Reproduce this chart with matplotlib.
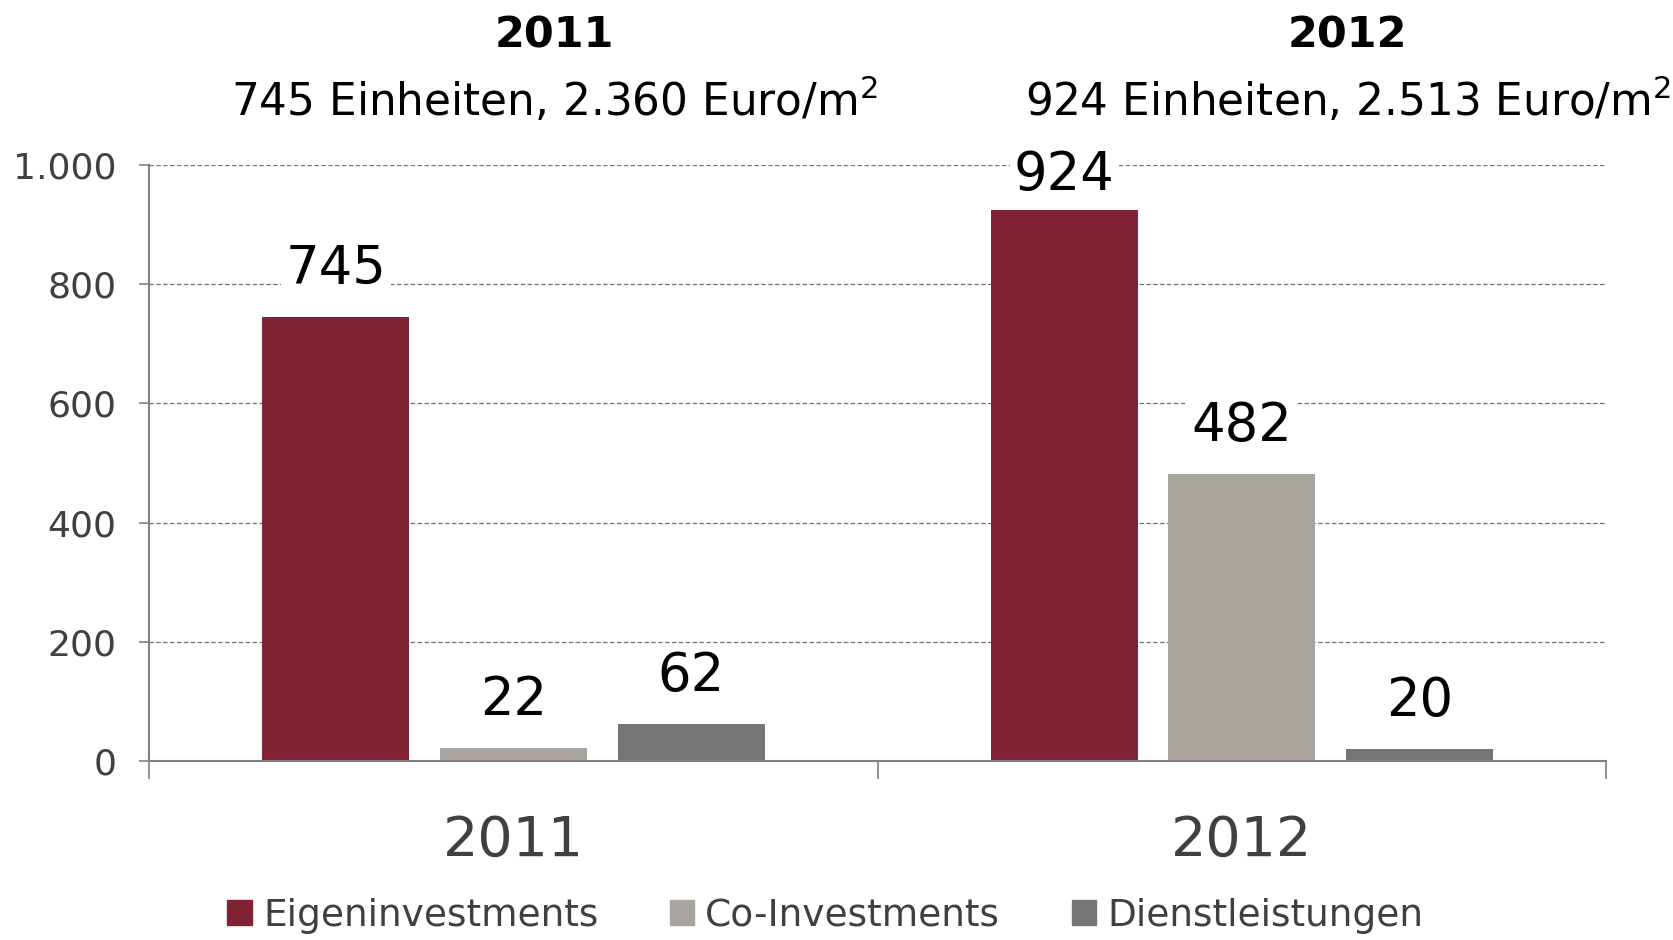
import numpy as np
import matplotlib
matplotlib.use("Agg")
import matplotlib.pyplot as plt
from matplotlib.patches import Patch

# data
years = ["2011", "2012"]
series = ["Eigeninvestments", "Co-Investments", "Dienstleistungen"]
eigen = [745, 924]
co = [22, 482]
dienst = [62, 20]
values = [eigen, co, dienst]
colors = ["#7F2335", "#A9A49D", "#767676"]
head_titles = ["2011", "2012"]
head_subs = ["745 Einheiten, 2.360 Euro/m$^2$", "924 Einheiten, 2.513 Euro/m$^2$"]

plt.rcParams["font.family"] = ["DejaVu Sans"]

fig = plt.figure(figsize=(16.74, 9.40), dpi=100)
ax = fig.add_axes([0.0893, 0.1904, 0.8701, 0.6340])

x = np.arange(len(years))
step = 0.244
width = 0.202

for j, (name, vals, col) in enumerate(zip(series, values, colors)):
    pos = x + (j - 1) * step
    ax.bar(pos, vals, width, color=col, zorder=2, label=name)
    for xp, v in zip(pos, vals):
        # label sits above the bar, but not higher than the top grid line area
        ly = min(v + 80, 984)
        ax.text(xp, ly, str(v), ha="center", va="center", fontsize=38, color="black",
                zorder=4, bbox=dict(boxstyle="square,pad=0.08", fc="white", ec="none"))

ax.set_xlim(-0.5, 1.5)
ax.set_ylim(0, 1000)
ax.set_yticks([0, 200, 400, 600, 800, 1000])
ax.set_yticklabels(["0", "200", "400", "600", "800", "1.000"])
ax.yaxis.grid(True, linestyle=(0, (3.5, 2)), color="#707070", linewidth=0.9, zorder=0)
ax.set_axisbelow(True)

ax.set_xticks([-0.5, 0.5, 1.5])
ax.set_xticklabels([])
ax.set_xticks(x, minor=True)
ax.set_xticklabels(years, minor=True)
ax.tick_params(axis="x", which="major", length=13, width=1.2, color="#808080", direction="out")
ax.tick_params(axis="x", which="minor", length=0, pad=38, labelsize=40, labelcolor="#404040")
ax.tick_params(axis="y", length=7, width=1.2, color="#808080", labelsize=26,
               labelcolor="#404040", pad=17)

for s in ["top", "right"]:
    ax.spines[s].set_visible(False)
for s in ["left", "bottom"]:
    ax.spines[s].set_color("#808080")
    ax.spines[s].set_linewidth(1.5)

# headers above each group
for xf, t, sub in zip([0.331, 0.805], head_titles, head_subs):
    fig.text(xf, 0.962, t, ha="center", va="center", fontsize=31, fontweight="bold")
    fig.text(xf, 0.893, sub, ha="center", va="center", fontsize=31.5)

handles = [Patch(color=c, label=n) for n, c in zip(series, colors)]
leg = fig.legend(handles=handles, loc="center", bbox_to_anchor=(0.493, 0.0255), ncol=3,
                 frameon=False, fontsize=27, handlelength=0.65, handleheight=0.65,
                 handletextpad=0.3, columnspacing=1.9, borderpad=0)
for t in leg.get_texts():
    t.set_color("#404040")

fig.savefig("out.png", dpi=100)
